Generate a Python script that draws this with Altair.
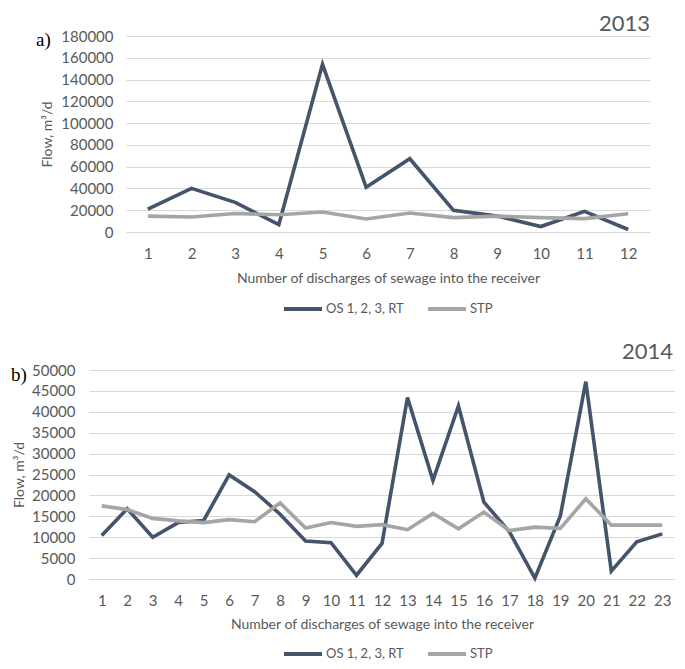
import altair as alt
import pandas as pd

OS = "OS 1, 2, 3, RT"
STP = "STP"

n13 = list(range(1, 13))
os13 = [21000, 40100, 27200, 6700, 154000, 41000, 67300, 19900, 14600, 5000, 19000, 2300]
stp13 = [14600, 13800, 17000, 15800, 18400, 12000, 17500, 13200, 14600, 13200, 12300, 16700]

n14 = list(range(1, 24))
os14 = [10400, 16800, 10000, 13500, 14000, 24900, 20900, 15500, 9100, 8700, 900, 8500,
        43400, 23600, 41400, 18400, 11300, 200, 15100, 47200, 1900, 8900, 10800]
stp14 = [17500, 16600, 14500, 13900, 13500, 14200, 13700, 18200, 12200, 13500, 12600, 13000,
         11800, 15700, 12000, 16000, 11600, 12400, 12100, 19200, 12900, 12900, 12900]

yticks13 = list(range(0, 180001, 20000))
yticks14 = list(range(0, 50001, 5000))

XTITLE = "Number of discharges of sewage into the receiver"
YTITLE = "Flow, m³/d"
GREY = "#595959"
FONT = "Lato"


def panel(ns, os_vals, stp_vals, ymax, yticks, width, height, letter, letter_x,
          letter_y, year, year_dx, year_dy, ytitle_x, ylabpad, xtitlepad,
          legend_x, legend_y):
    df = pd.DataFrame({
        "n": ns + ns,
        "v": os_vals + stp_vals,
        "s": [OS] * len(ns) + [STP] * len(ns),
    })
    lines = alt.Chart(df).mark_line(strokeWidth=3.6).encode(
        x=alt.X("n:O", scale=alt.Scale(padding=0.5),
                axis=alt.Axis(title=XTITLE, labelAngle=0, grid=False, domain=False,
                              ticks=False, tickSize=0, labelPadding=14.5,
                              labelFontSize=15, titleFontSize=14,
                              titleFontWeight="normal", titlePadding=xtitlepad,
                              labelColor=GREY, titleColor=GREY, labelFont=FONT,
                              titleFont=FONT)),
        y=alt.Y("v:Q", scale=alt.Scale(domain=[0, ymax], nice=False),
                axis=alt.Axis(title=YTITLE, values=yticks, format="d", domain=False,
                              ticks=False, tickSize=0, labelPadding=ylabpad,
                              labelFontSize=15, titleFontSize=14,
                              titleFontWeight="normal", titleX=ytitle_x,
                              titleY=height / 2, titleAngle=270,
                              titleBaseline="middle", titleAlign="center",
                              gridColor="#D9D9D9", gridWidth=1.2,
                              labelColor=GREY, titleColor=GREY, labelFont=FONT,
                              titleFont=FONT)),
        color=alt.Color("s:N", scale=alt.Scale(domain=[OS, STP],
                                               range=["#44546A", "#A5A5A5"]),
                        legend=alt.Legend(orient="none", legendX=legend_x,
                                          legendY=legend_y, title=None,
                                          direction="horizontal", symbolType="stroke",
                                          symbolSize=1444, symbolStrokeWidth=4,
                                          labelFontSize=13, labelColor=GREY,
                                          labelFont=FONT, labelOffset=2,
                                          columnPadding=16, padding=0)),
    )
    lab = alt.Chart(pd.DataFrame({"t": [letter]})).mark_text(
        align="left", baseline="middle", font="Liberation Serif", fontSize=19,
        color="black").encode(x=alt.value(letter_x), y=alt.value(letter_y), text="t:N")
    yr = alt.Chart(pd.DataFrame({"t": [year]})).mark_text(
        align="right", baseline="middle", font=FONT, fontSize=22,
        color=GREY).encode(x=alt.value(width + year_dx), y=alt.value(year_dy), text="t:N")
    return alt.layer(lines, lab, yr).properties(width=width, height=height)


top = panel(n13, os13, stp13, 180000, yticks13, 524, 196, "a)", -90, 4,
            "2013", 0, -12.5, -79, 13, 10, 156, 252)
bottom = panel(n14, os14, stp14, 50000, yticks14, 586, 209, "b)", -78, 5,
               "2014", -2, -18, -70, 14, 9, 193, 263)

spacer = alt.Chart(pd.DataFrame({"a": [0]})).mark_rule(
    color="#ffffff", strokeWidth=1).encode(
    x=alt.value(0), x2=alt.value(1), y=alt.value(0)).properties(width=17, height=1)

top_row = alt.hconcat(spacer, top, spacing=20, bounds="flush").resolve_scale(
    color="independent")

chart = alt.vconcat(top_row, bottom, spacing=24).resolve_scale(
    color="independent").properties(
    padding={"top": 4, "left": 3, "right": 0, "bottom": 0}).configure_view(stroke=None)

chart.save("out.html", embed_options={"renderer": "svg", "actions": False})
